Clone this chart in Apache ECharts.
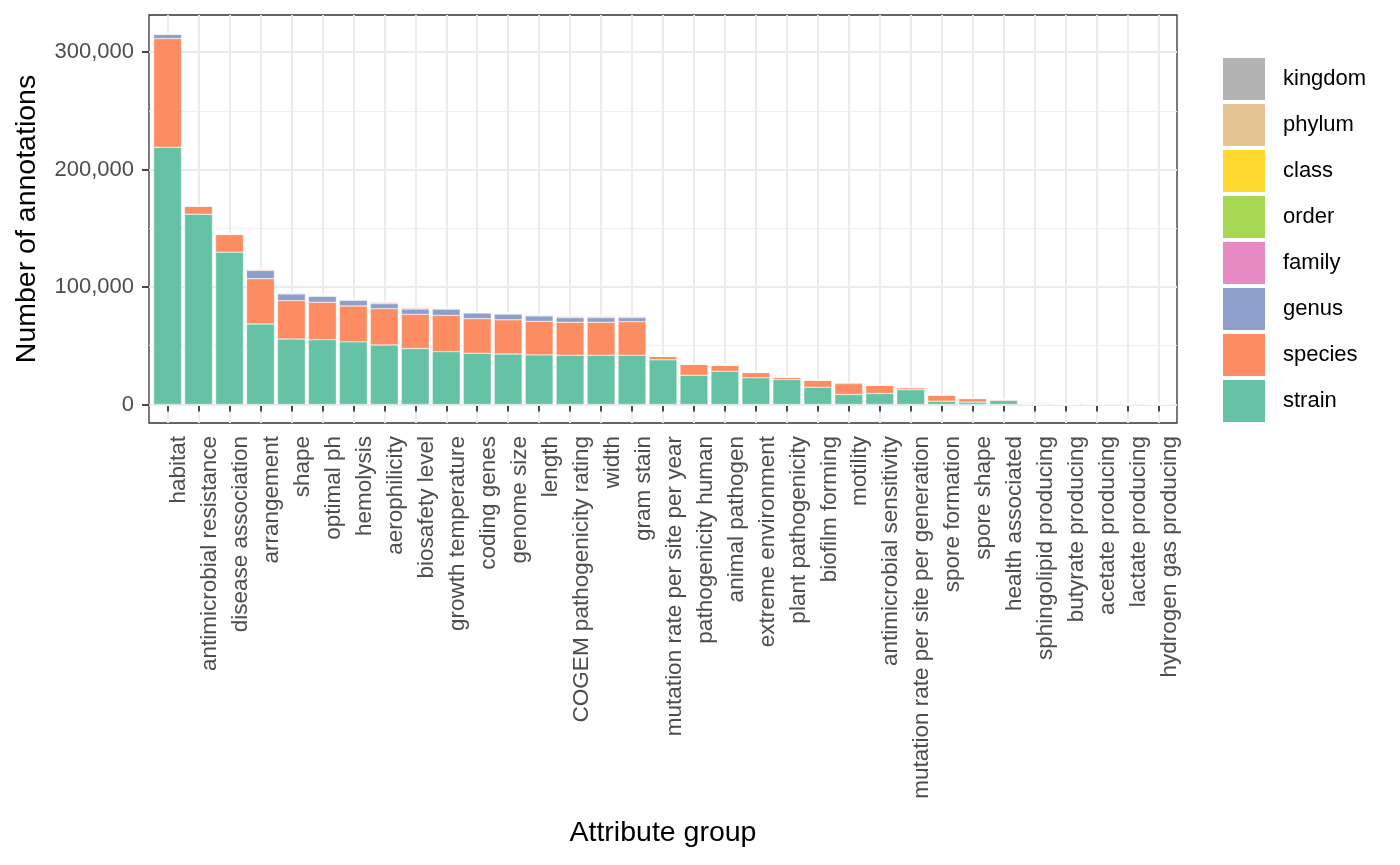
<!DOCTYPE html>
<html>
<head>
<meta charset="utf-8">
<script src="https://cdn.jsdelivr.net/npm/echarts@6/dist/echarts.min.js"></script>
<style>
html, body { margin: 0; padding: 0; background: #fff; }
#chart { width: 1400px; height: 865px; }
</style>
</head>
<body>
<div id="chart"></div>
<script>
// attribute groups, in plotted order
const categories = [
  'habitat', 'antimicrobial resistance', 'disease association', 'arrangement', 'shape',
  'optimal ph', 'hemolysis', 'aerophilicity', 'biosafety level', 'growth temperature',
  'coding genes', 'genome size', 'length', 'COGEM pathogenicity rating', 'width',
  'gram stain', 'mutation rate per site per year', 'pathogenicity human', 'animal pathogen',
  'extreme environment', 'plant pathogenicity', 'biofilm forming', 'motility',
  'antimicrobial sensitivity', 'mutation rate per site per generation', 'spore formation',
  'spore shape', 'health associated', 'sphingolipid producing', 'butyrate producing',
  'acetate producing', 'lactate producing', 'hydrogen gas producing'
];

// annotation counts per taxonomic level
const strain  = [219000, 162000, 129700, 68500, 55800, 55200, 53300, 50700, 47600, 45000,
                 43600, 43000, 42200, 41900, 41900, 41900, 38000, 24900, 28300, 22700,
                 21200, 14700, 8500, 9300, 12500, 2800, 2000, 3400, 200, 100, 100, 100, 100];
const species = [92600, 7100, 15000, 38600, 32600, 31800, 30600, 30900, 29100, 30900,
                 29500, 29100, 28600, 28100, 28100, 28600, 3000, 9400, 5200, 4500,
                 2100, 6000, 9200, 7200, 1800, 5200, 3000, 800, 600, 0, 0, 0, 0];
const genus   = [3600, 0, 300, 7000, 5700, 5100, 4800, 4200, 4600, 5400,
                 4800, 4900, 4600, 3900, 3900, 3400, 100, 300, 200, 300,
                 200, 300, 1000, 200, 100, 200, 100, 0, 0, 0, 0, 0, 0];
const family  = [400, 0, 200, 1000, 800, 700, 800, 1400, 1000, 300,
                 600, 800, 800, 1200, 1200, 1200, 0, 0, 0, 0,
                 0, 0, 0, 0, 0, 0, 0, 0, 0, 0, 0, 0, 0];
const order   = [100, 0, 0, 200, 0, 0, 0, 0, 0, 0,
                 0, 0, 0, 0, 0, 0, 0, 0, 0, 0,
                 0, 0, 0, 0, 0, 0, 0, 0, 0, 0, 0, 0, 0];
const klass   = [100, 0, 0, 200, 300, 200, 200, 300, 300, 500,
                 200, 200, 300, 500, 500, 500, 0, 0, 0, 0,
                 0, 0, 0, 0, 0, 0, 0, 0, 0, 0, 0, 0, 0];
const phylum  = [100, 0, 0, 100, 300, 200, 200, 300, 300, 300,
                 100, 100, 200, 300, 300, 300, 0, 0, 0, 0,
                 0, 0, 0, 0, 0, 0, 0, 0, 800, 0, 0, 0, 0];
const kingdom = [0, 0, 0, 0, 0, 0, 0, 0, 0, 0,
                 0, 0, 0, 0, 0, 0, 0, 0, 0, 0,
                 0, 0, 0, 0, 0, 0, 0, 0, 0, 0, 0, 0, 0];

const levelNames = ['strain', 'species', 'genus', 'family', 'order', 'class', 'phylum', 'kingdom'];
const levelData = [strain, species, genus, family, order, klass, phylum, kingdom];
const levelColors = ['#66C2A5', '#FC8D62', '#8DA0CB', '#E78AC3', '#A6D854', '#FFD92F', '#E5C494', '#B3B3B3'];

const majorTicks = [0, 100000, 200000, 300000];
const minorTicks = [50000, 150000, 250000];

// y range with ggplot's 5% expansion
const maxTotal = Math.max(...categories.map((c, i) => levelData.reduce((s, d) => s + d[i], 0)));
const yMin = -maxTotal * 0.05;
const yMax = maxTotal * 1.05;

const font = "'Liberation Sans', Arial, Helvetica, sans-serif";
const chart = echarts.init(document.getElementById('chart'), null, { renderer: 'canvas' });

// panel: 149..1177 x 15..423 ; discrete axis padded 0.6 units each side
const unit = 1028 / (categories.length + 0.2);

const option = {
  backgroundColor: '#ffffff',
  animation: false,
  textStyle: { fontFamily: font },
  grid: [
    { left: 149, top: 15, width: 1028, height: 408, show: true,
      borderColor: '#333333', borderWidth: 1.3, backgroundColor: 'transparent', z: 0 },
    { left: 149 + unit * 0.1, top: 15, width: unit * categories.length, height: 408 }
  ],
  legend: {
    orient: 'vertical',
    left: 1221,
    top: 56,
    padding: 0,
    itemWidth: 44,
    itemHeight: 44,
    itemGap: 0,
    icon: 'rect',
    data: levelNames.slice().reverse(),
    textStyle: { fontSize: 22, color: '#000', fontFamily: font, padding: [0, 0, 0, 12] }
  },
  xAxis: [
    { gridIndex: 0, type: 'value', show: false, min: 0, max: 1 },
    {
      gridIndex: 1,
      type: 'category',
      data: categories,
      boundaryGap: true,
      name: 'Attribute group',
      nameLocation: 'middle',
      nameGap: 396,
      nameTextStyle: { fontSize: 28.5, color: '#000', fontFamily: font },
      axisLine: { show: false },
      axisTick: { show: true, alignWithLabel: true, length: 7, lineStyle: { color: '#333333', width: 1.8 } },
      axisLabel: { rotate: 90, interval: 0, margin: 13, fontSize: 22.5, color: '#4D4D4D',
                   fontFamily: font, verticalAlign: 'top' },
      splitLine: { show: true, alignWithLabel: true, lineStyle: { color: '#EBEBEB', width: 2 } }
    }
  ],
  yAxis: [
    {
      gridIndex: 0, type: 'value', min: yMin, max: yMax, z: 1,
      name: 'Number of annotations',
      nameLocation: 'middle',
      nameGap: 107,
      nameTextStyle: { fontSize: 28.5, color: '#000', fontFamily: font },
      axisLine: { show: false },
      axisTick: { show: true, length: 7, customValues: majorTicks, lineStyle: { color: '#333333', width: 1.8 } },
      axisLabel: { customValues: majorTicks, margin: 15, fontSize: 22, color: '#4D4D4D', fontFamily: font,
                   formatter: v => Math.round(v).toLocaleString('en-US') },
      splitLine: { show: true, lineStyle: { color: '#EBEBEB', width: 2 } }
    },
    {
      gridIndex: 0, type: 'value', min: yMin, max: yMax, z: 0,
      axisLine: { show: false },
      axisTick: { show: false, customValues: minorTicks },
      axisLabel: { show: false, customValues: minorTicks },
      splitLine: { show: true, lineStyle: { color: '#F0F0F0', width: 1 } }
    },
    {
      gridIndex: 1, type: 'value', min: yMin, max: yMax, show: false,
      splitLine: { show: false }
    }
  ],
  series: levelNames.map((name, k) => ({
    name: name,
    type: 'bar',
    stack: 'total',
    xAxisIndex: 1,
    yAxisIndex: 2,
    barWidth: '90%',
    data: levelData[k],
    itemStyle: { color: levelColors[k], borderColor: '#ffffff', borderWidth: 0.4 },
    emphasis: { disabled: true }
  }))
};

chart.setOption(option);
</script>
</body>
</html>
